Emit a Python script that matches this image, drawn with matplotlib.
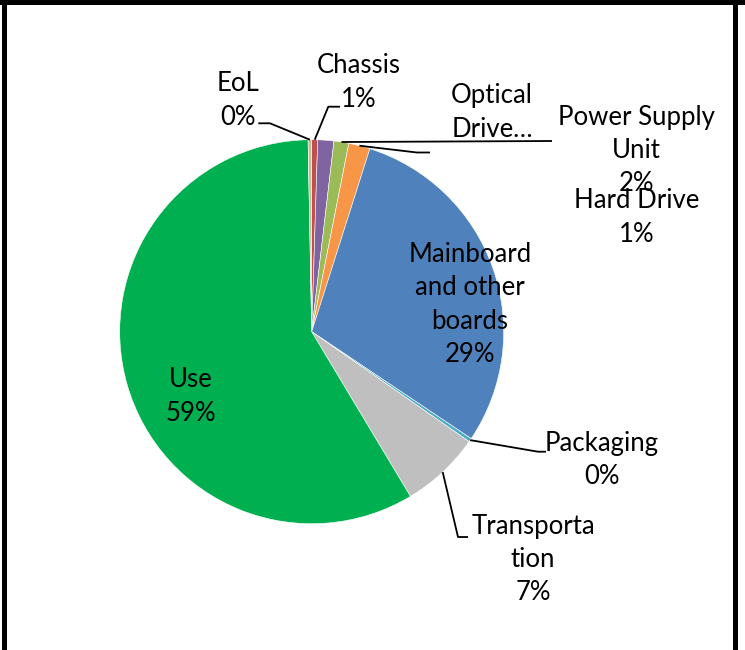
import matplotlib
matplotlib.use("Agg")
import matplotlib.pyplot as plt
import matplotlib.patches as patches
import numpy as np

# slice order clockwise from 12 o'clock
labels = ["Chassis", "Hard Drive", "Optical Drive", "Power Supply Unit",
          "Mainboard and other boards", "Packaging", "Transportation", "Use", "EoL"]
values = [0.5, 1.35, 1.25, 1.8, 29.5, 0.3, 6.7, 58.3, 0.3]
shown = ["1%", "1%", "", "2%", "29%", "0%", "7%", "59%", "0%"]
colors = ["#C0504D", "#8064A2", "#9BBB59", "#F79646", "#4F81BD",
          "#4BACC6", "#BFBFBF", "#00B050", "#C4BD97"]

W, H = 745, 650
fig = plt.figure(figsize=(W / 100, H / 100), dpi=100)
ax = fig.add_axes([0, 0, 1, 1])
ax.axis("off")

def Y(y):
    # pixel row -> data y
    return H - y

cx, cy, r = 311.7, 331.7, 192
wedges, _ = ax.pie(values, colors=colors, startangle=90, counterclock=False,
                   center=(cx, Y(cy)), radius=r,
                   wedgeprops=dict(edgecolor="white", linewidth=0.4))
ax.set_xlim(0, W)
ax.set_ylim(0, H)
ax.set_aspect("equal")

def edge(i, frac=1.0):
    w = wedges[i]
    a = np.deg2rad((w.theta1 + w.theta2) / 2)
    return cx + r * frac * np.cos(a), Y(cy) + r * frac * np.sin(a)

def leader(i, pts):
    x0, y0 = edge(i)
    xs = [x0] + [p[0] for p in pts]
    ys = [y0] + [Y(p[1]) for p in pts]
    ax.plot(xs, ys, color="black", lw=1.3, solid_capstyle="butt")

leader(0, [(328.3, 106.7), (340, 106.7)])
leader(8, [(270, 123.3), (258.3, 123.3)])
leader(2, [(552, 141)])
leader(3, [(417, 152.5), (430, 152.5)])
leader(5, [(538, 451.7), (546, 451.7)])
leader(6, [(458, 537), (468, 537)])

fs = 18.5
font = "Lato"
def txt(x, y, s):
    ax.text(x, Y(y), s, ha="center", va="center", fontsize=fs, family=font,
            color="black", linespacing=1.42)

txt(238, 100.5, "EoL\n0%")
txt(359, 82.5, "Chassis\n1%")
txt(492, 112.5, "Optical\nDrive\u2026")
txt(636, 150.5, "Power Supply\nUnit\n2%")
txt(637, 217.5, "Hard Drive\n1%")
txt(470, 304.5, "Mainboard\nand other\nboards\n29%")
txt(191, 396.5, "Use\n59%")
txt(602, 460, "Packaging\n0%")
txt(533, 559.5, "Transporta\ntion\n7%")

# border (top, left, right)
for (x0, y0, w, h) in [(0, 0, W, 5), (2, 0, 5, H), (733, 0, 5, H)]:
    ax.add_patch(patches.Rectangle((x0, Y(y0 + h)), w, h, color="black", lw=0))

fig.savefig("out.png", dpi=100)
